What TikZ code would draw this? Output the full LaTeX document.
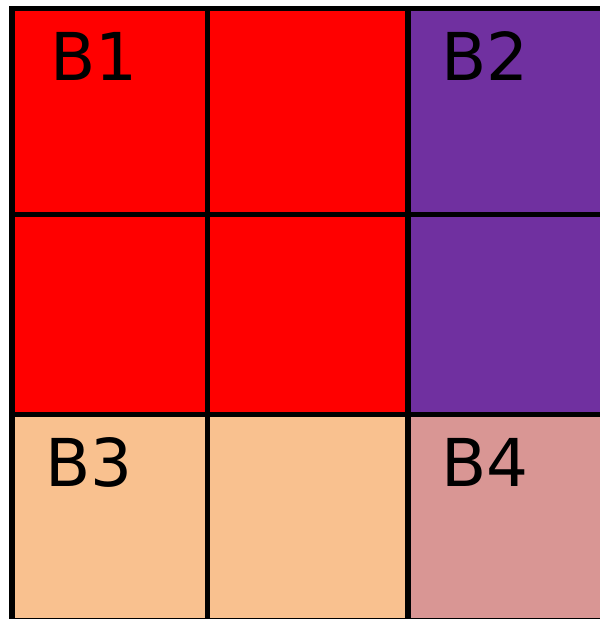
\documentclass[tikz,border=0pt]{standalone}
\usepackage{fontspec}
\setmainfont{DejaVu Sans}
\definecolor{cred}{HTML}{FF0000}
\definecolor{cpurple}{HTML}{7030A0}
\definecolor{cpeach}{HTML}{F9C18F}
\definecolor{cpink}{HTML}{D99694}
\begin{document}
\begin{tikzpicture}[x=1pt,y=-1pt,
  gridline/.style={line width=5.5pt,black},
  lbl/.style={anchor=base west,inner sep=0pt,font=\fontsize{66}{66}\selectfont}]
\useasboundingbox (0,0) rectangle (600,619);
\fill[white] (0,0) rectangle (600,619);
% fills
\fill[cred] (12,8.5) rectangle (408,414.5);
\fill[cpurple] (408,8.5) rectangle (600,414.5);
\fill[cpeach] (12,414.5) rectangle (408,618.5);
\fill[cpink] (408,414.5) rectangle (600,618.5);
% grid lines
\draw[line width=5pt] (9,8.5) -- (600,8.5);
\draw[line width=6pt] (12,6) -- (12,619);
\draw[gridline] (207.5,8.5) -- (207.5,619);
\draw[gridline] (408,8.5) -- (408,619);
\draw[gridline] (12,214.5) -- (600,214.5);
\draw[gridline] (12,414.5) -- (600,414.5);
\draw[line width=1pt] (12,618.5) -- (600,618.5);
% labels
\node[lbl] (b1) at (50.5,80) {B1};
\node[lbl] (b2) at (441.5,80) {B2};
\node[lbl] (b3) at (45.5,486) {B3};
\node[lbl] (b4) at (441.5,486) {B4};
\end{tikzpicture}
\end{document}
